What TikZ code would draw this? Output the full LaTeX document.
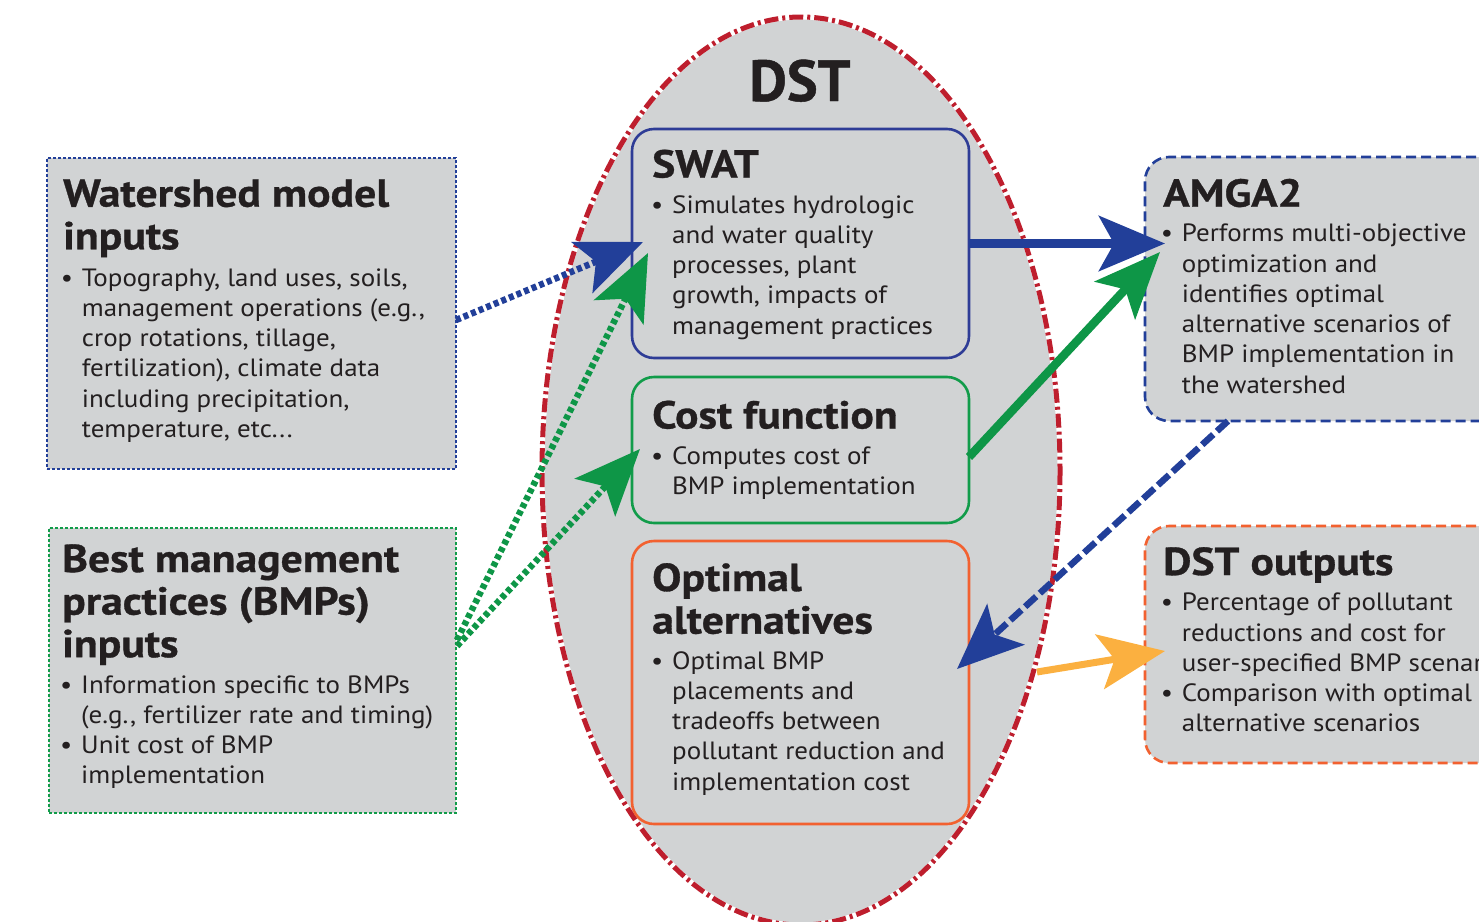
\documentclass[tikz,border=0pt]{standalone}
\usepackage{fontspec}
\setmainfont{PT Sans}[FakeStretch=1.08]
\newfontfamily\titlefam{PT Sans}[FakeStretch=1.12, FakeBold=0.8]
\newfontfamily\plainfam{PT Sans}[FakeBold=0.8]
\usetikzlibrary{arrows.meta,shapes.geometric}
\definecolor{boxgray}{HTML}{D1D3D4}
\definecolor{txt}{HTML}{231F20}
\definecolor{dstred}{HTML}{BE1E2D}
\definecolor{swblue}{HTML}{2E3C96}
\definecolor{arblue}{HTML}{223F99}
\definecolor{cfgreen}{HTML}{119C4A}
\definecolor{argreen}{HTML}{0E9647}
\definecolor{oporange}{HTML}{F26130}
\definecolor{aryellow}{HTML}{FBB040}
\newcommand\bodyfont{\fontsize{25}{30.3}\selectfont}
\newcommand\titlefont{\titlefam\fontsize{39}{42.6}\selectfont\bfseries}
\newcommand\bul{\makebox[20pt][l]{\makebox[10pt]{\textbullet}}}
\newcommand\blines[1]{\begin{tabular}[t]{@{}l@{}l@{}}#1\end{tabular}}
\newcommand\tlines[1]{\begin{tabular}[t]{@{}l@{}}#1\end{tabular}}
\tikzset{
  graybox/.style={fill=boxgray, inner sep=0pt, outer sep=0pt},
  inbox/.style={graybox, line width=2.2pt, dash pattern=on 3pt off 2pt},
  dstbox/.style={graybox, rounded corners=22pt, line width=2.6pt},
  sidebox/.style={graybox, rounded corners=24pt, line width=2.6pt, dash pattern=on 10pt off 5pt},
  ttl/.style={anchor=base west, inner sep=0pt, font=\titlefont, text=txt},
  bdy/.style={anchor=base west, inner sep=0pt, font=\bodyfont, text=txt},
  bigtip/.style={-{Stealth[length=66pt, width=55pt, inset=15pt]}},
  dotline/.style={line width=6.5pt, dash pattern=on 5pt off 3.2pt},
}
\begin{document}
\begin{tikzpicture}[x=1pt, y=-1pt]
\useasboundingbox (0,0) rectangle (1479,921);
\clip (0,0) rectangle (1479,921);

% DST ellipse
\node[ellipse, fill=boxgray, draw=white, line width=5pt, inner sep=0pt, outer sep=0pt,
      minimum width=518pt, minimum height=908pt] (dst) at (801,471) {};
\draw[dstred, line width=5pt, dash pattern=on 14pt off 4pt on 3pt off 4pt]
      (dst.center) ellipse [x radius=259, y radius=454];
\node[anchor=base, inner sep=0pt, font=\plainfam\fontsize{58}{60}\selectfont\bfseries, text=txt] (dsttitle) at (800,101) {DST};

% left boxes
\node[inbox, draw=arblue, minimum width=409pt, minimum height=311pt] (wmi) at (251.5,313.5) {};
\node[inbox, draw=cfgreen, minimum width=407pt, minimum height=285pt] (bmp) at (252.5,670.5) {};

% inner DST boxes
\node[dstbox, draw=swblue, minimum width=337pt, minimum height=229pt] (swat) at (800.5,243.5) {};
\node[dstbox, draw=cfgreen, minimum width=337pt, minimum height=146pt] (cost) at (800.5,450) {};
\node[dstbox, draw=oporange, minimum width=337pt, minimum height=283pt] (opt) at (800.5,682.5) {};

% right boxes
\node[sidebox, draw=arblue, minimum width=415pt, minimum height=264pt] (amga) at (1352.5,289) {};
\node[sidebox, draw=oporange, minimum width=415pt, minimum height=237pt] (outp) at (1352.5,644.5) {};

% texts
\node[ttl] (wmiT) at (63,206.7) {\tlines{Watershed model\\ inputs}};
\node[bdy] (wmiB) at (61.7,286) {\blines{\bul & Topography, land uses, soils,\\
  & management operations (e.g.,\\ & crop rotations, tillage,\\
  & fertilization), climate data\\ & including precipitation,\\ & temperature, etc...}};

\node[ttl] (bmpT) at (62,572) {\tlines{Best management\\ practices (BMPs)\\ inputs}};
\node[bdy] (bmpB) at (61,693) {\blines{\bul & Information specific to BMPs\\
  & (e.g., fertilizer rate and timing)\\ \bul & Unit cost of BMP\\ & implementation}};

\node[ttl] (swatT) at (652,177.5) {SWAT};
\node[bdy] (swatB) at (652,213) {\blines{\bul & Simulates hydrologic\\ & and water quality\\
  & processes, plant\\ & growth, impacts of\\ & management practices}};

\node[ttl] (costT) at (652,428.5) {Cost function};
\node[bdy] (costB) at (652,464) {\blines{\bul & Computes cost of\\ & BMP implementation}};

\node[ttl] (optT) at (652,591) {\tlines{Optimal\\ alternatives}};
\node[bdy] (optB) at (652,669) {\blines{\bul & Optimal BMP\\ & placements and\\
  & tradeoffs between\\ & pollutant reduction and\\ & implementation cost}};

\node[ttl] (amgaT) at (1163,206.7) {AMGA2};
\node[bdy] (amgaB) at (1161.7,241.7) {\blines{\bul & Performs multi-objective\\
  & optimization and\\ & identifies optimal\\ & alternative scenarios of\\
  & BMP implementation in\\ & the watershed}};

\node[ttl] (outpT) at (1163,575) {DST outputs};
\node[bdy] (outpB) at (1161.7,610.7) {\blines{\bul & Percentage of pollutant\\
  & reductions and cost for\\ & user-specified BMP scenarios\\
  \bul & Comparison with optimal\\ & alternative scenarios}};

% connector end points
\coordinate (a1s) at (456,320);  \coordinate (a1e) at (643,242);
\coordinate (a2s) at (457,640);  \coordinate (a2e) at (648,253);
\coordinate (a3s) at (457,646);  \coordinate (a3e) at (640,449);
\coordinate (a4e) at (1165,243.5);
\coordinate (a5s) at (969,457);  \coordinate (a5e) at (1160,252);
\coordinate (a6s) at (1228,421); \coordinate (a6e) at (957,669);
\coordinate (a7s) at (1037,672); \coordinate (a7e) at (1165,651);

% connectors
\draw[bigtip, dotline, arblue] (a1s) -- (a1e);
\draw[bigtip, dotline, argreen] (a2s) -- (a2e);
\draw[bigtip, dotline, argreen] (a3s) -- (a3e);
\draw[bigtip, line width=8.5pt, arblue] (swat.east) -- (a4e);
\draw[bigtip, line width=8.5pt, argreen] (a5s) -- (a5e);
\draw[bigtip, line width=6.5pt, arblue, dash pattern=on 15pt off 5pt] (a6s) -- (a6e);
\draw[bigtip, line width=7pt, aryellow] (a7s) -- (a7e);
\end{tikzpicture}
\end{document}
